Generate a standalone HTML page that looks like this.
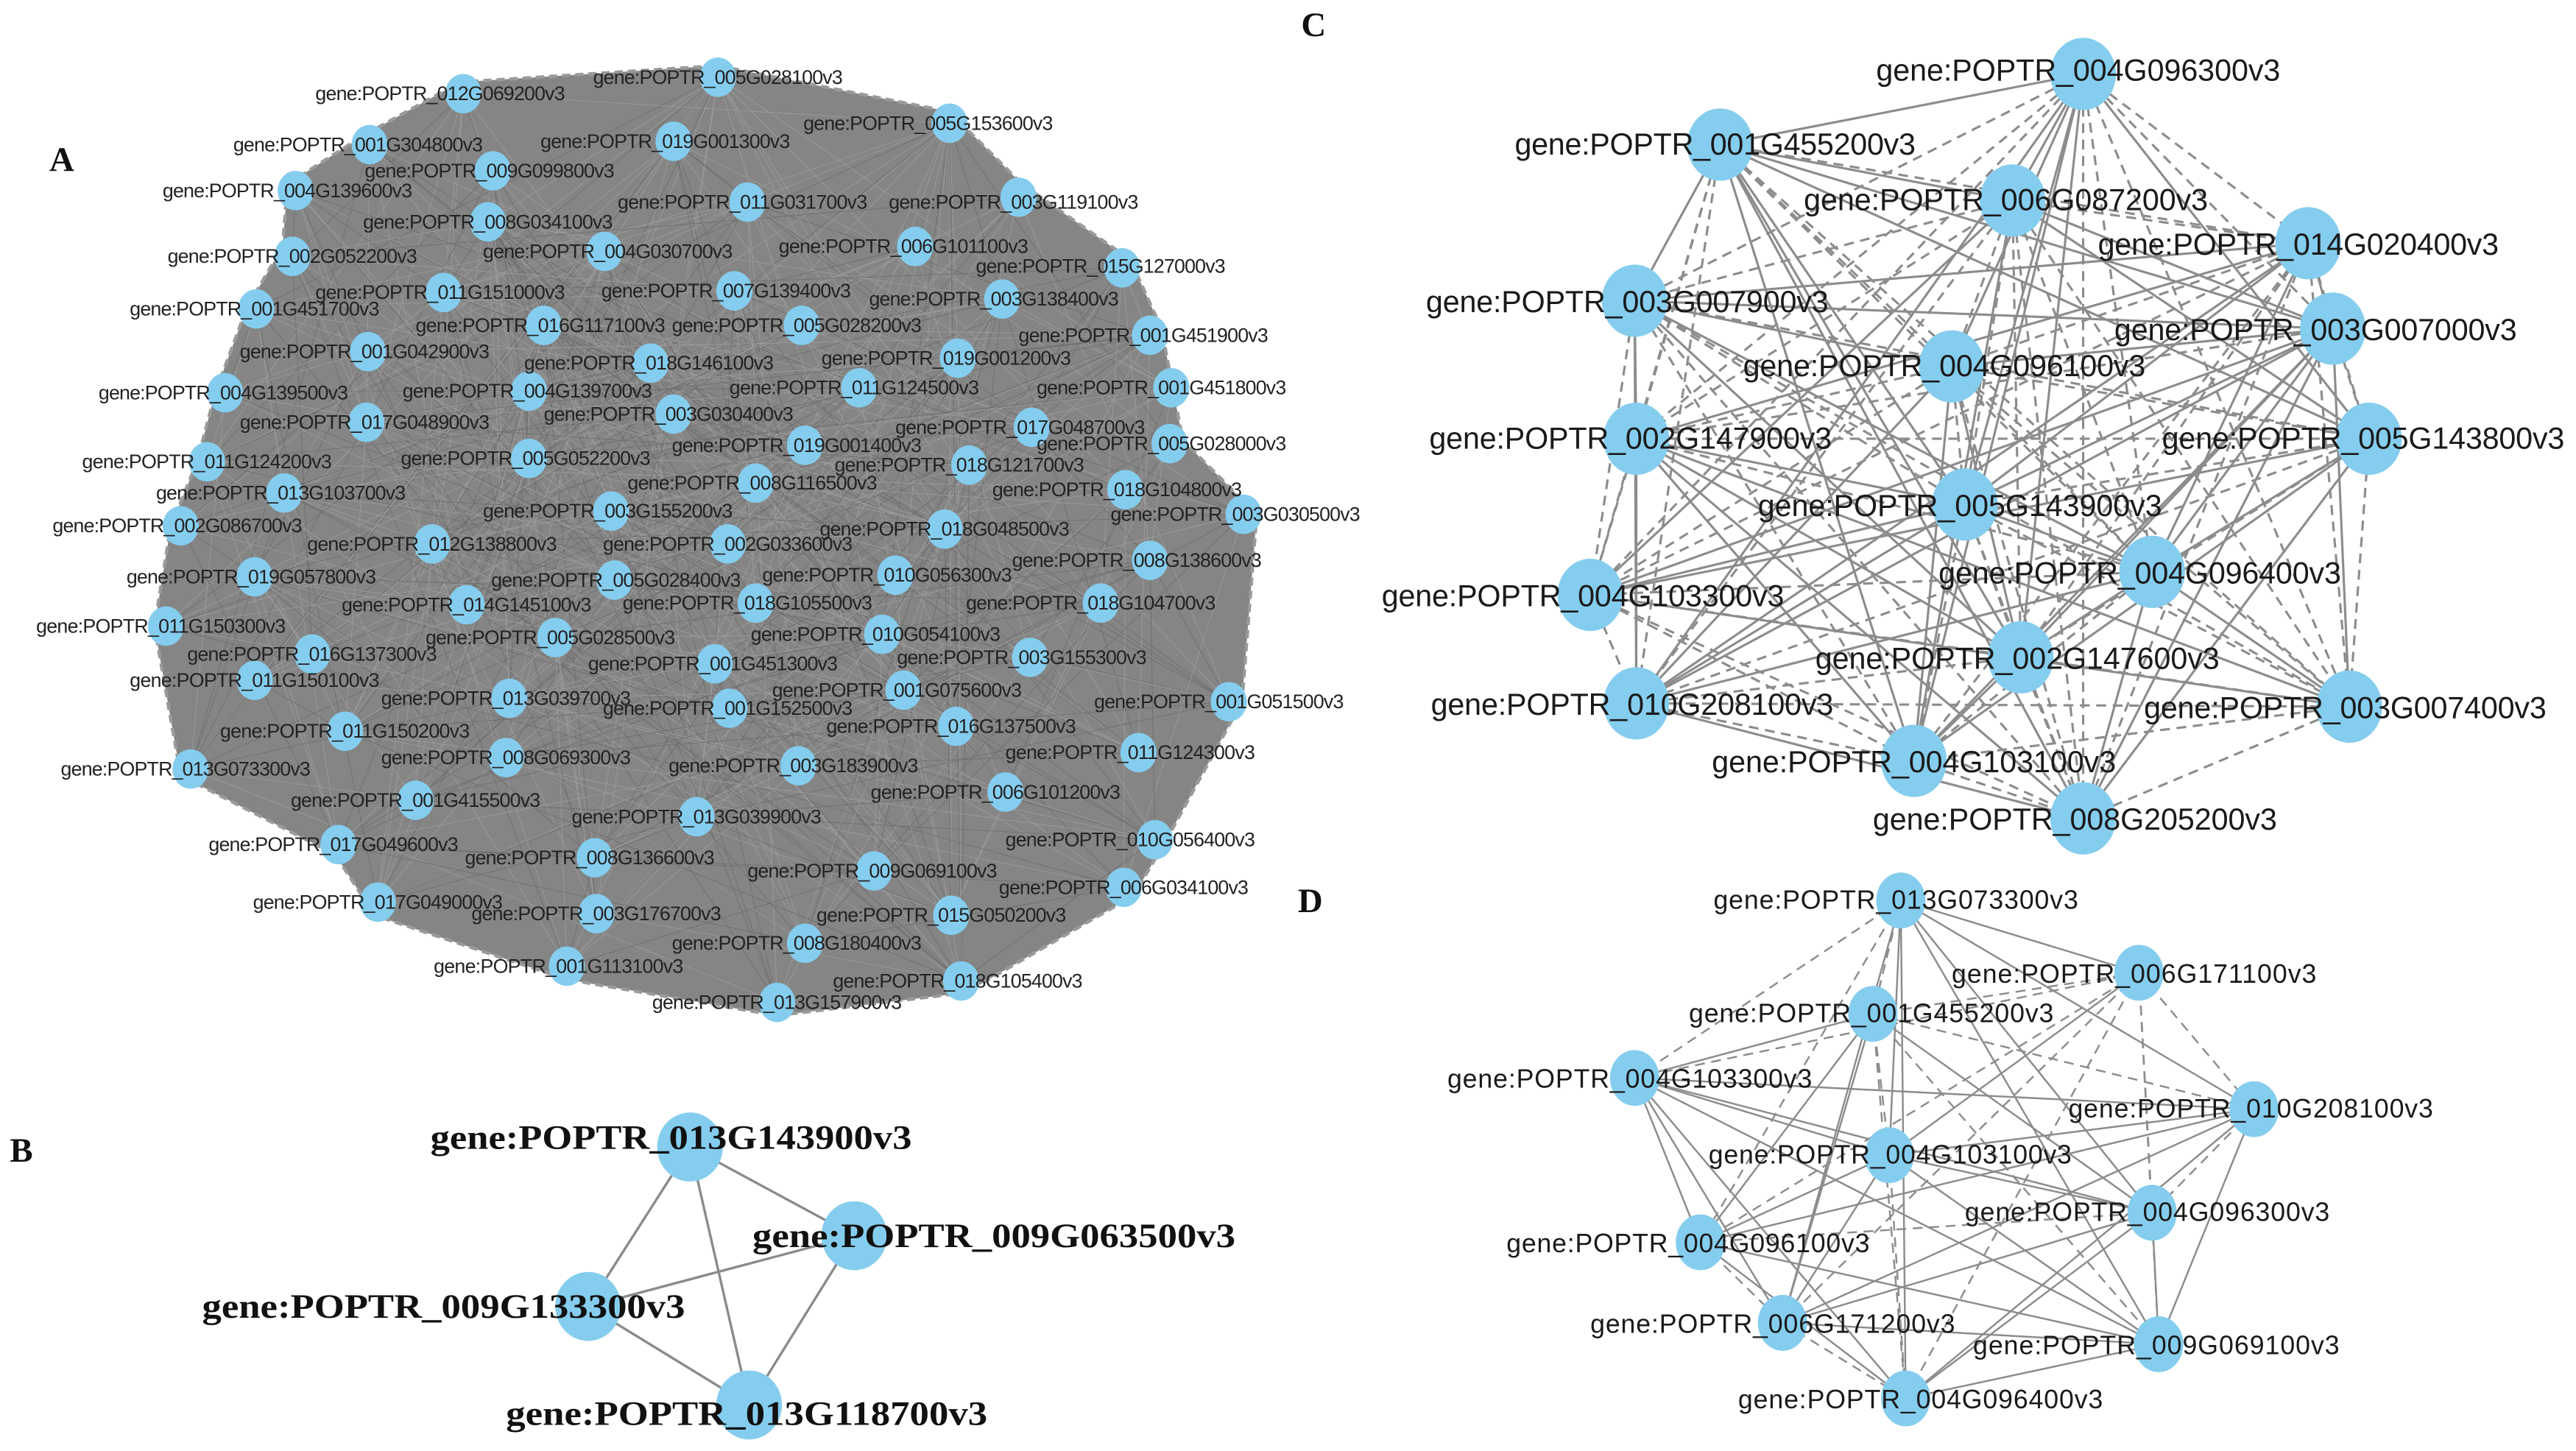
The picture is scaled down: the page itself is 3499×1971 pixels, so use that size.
<!DOCTYPE html>
<html><head><meta charset="utf-8"><style>
html,body{margin:0;padding:0;background:#fff;}
svg{display:block;}
.a text{font-family:"Liberation Sans",sans-serif;font-size:12px;fill:#222;}
.c text{font-family:"Liberation Sans",sans-serif;font-size:18.5px;fill:#1a1a1a;}
.d text{font-family:"Liberation Sans",sans-serif;font-size:16px;fill:#1a1a1a;}
.b text{font-family:"Liberation Serif",serif;font-size:21px;font-weight:bold;fill:#111;}
.lt{font-family:"Liberation Serif",serif;font-size:21px;font-weight:bold;fill:#111;}
circle,ellipse{fill:#85cdee;}
</style></head><body>
<svg id="s" xmlns="http://www.w3.org/2000/svg" width="3499" height="1971" viewBox="0 0 1568 883" preserveAspectRatio="none">
<rect width="1568" height="883" fill="#fff"/>
<text class="lt" x="30" y="104">A</text>
<text class="lt" x="6" y="707">B</text>
<text class="lt" x="792" y="22">C</text>
<text class="lt" x="790" y="555">D</text>

<polygon points="437,40 578,68 622,112 688,158 707,200 720,268 765,313 756,427 710,511 690,545 588,604 473,618 345,596 228,557 204,520 110,472 94,381 104,320 120,281 131,239 150,188 172,150 175,112 222,82 280,50" fill="#858585" stroke="#9a9a9a" stroke-width="2" stroke-dasharray="5,3"/>
<g id="ea" stroke="#a8a8a8" stroke-width="0.5"></g>
<g class="a" id="na">
<ellipse cx="282" cy="57" rx="11" ry="12"/><ellipse cx="437" cy="47" rx="11" ry="12"/><ellipse cx="578" cy="75" rx="11" ry="12"/><ellipse cx="225" cy="88" rx="11" ry="12"/><ellipse cx="410" cy="86" rx="11" ry="12"/><ellipse cx="300" cy="104" rx="11" ry="12"/><ellipse cx="180" cy="116" rx="11" ry="12"/><ellipse cx="455" cy="123" rx="11" ry="12"/><ellipse cx="620" cy="120" rx="11" ry="12"/><ellipse cx="297" cy="135" rx="11" ry="12"/><ellipse cx="368" cy="153" rx="11" ry="12"/><ellipse cx="557" cy="150" rx="11" ry="12"/><ellipse cx="178" cy="156" rx="11" ry="12"/><ellipse cx="683" cy="163" rx="11" ry="12"/><ellipse cx="270" cy="178" rx="11" ry="12"/><ellipse cx="447" cy="177" rx="11" ry="12"/><ellipse cx="610" cy="182" rx="11" ry="12"/><ellipse cx="156" cy="188" rx="11" ry="12"/><ellipse cx="331" cy="198" rx="11" ry="12"/><ellipse cx="488" cy="198" rx="11" ry="12"/><ellipse cx="700" cy="204" rx="11" ry="12"/><ellipse cx="224" cy="214" rx="11" ry="12"/><ellipse cx="396" cy="221" rx="11" ry="12"/><ellipse cx="583" cy="218" rx="11" ry="12"/><ellipse cx="137" cy="239" rx="11" ry="12"/><ellipse cx="322" cy="238" rx="11" ry="12"/><ellipse cx="523" cy="236" rx="11" ry="12"/><ellipse cx="713" cy="236" rx="11" ry="12"/><ellipse cx="410" cy="252" rx="11" ry="12"/><ellipse cx="223" cy="257" rx="11" ry="12"/><ellipse cx="628" cy="260" rx="11" ry="12"/><ellipse cx="712" cy="270" rx="11" ry="12"/><ellipse cx="490" cy="271" rx="11" ry="12"/><ellipse cx="322" cy="279" rx="11" ry="12"/><ellipse cx="590" cy="283" rx="11" ry="12"/><ellipse cx="126" cy="281" rx="11" ry="12"/><ellipse cx="460" cy="294" rx="11" ry="12"/><ellipse cx="173" cy="300" rx="11" ry="12"/><ellipse cx="685" cy="298" rx="11" ry="12"/><ellipse cx="757" cy="313" rx="11" ry="12"/><ellipse cx="372" cy="311" rx="11" ry="12"/><ellipse cx="110" cy="320" rx="11" ry="12"/><ellipse cx="575" cy="322" rx="11" ry="12"/><ellipse cx="263" cy="331" rx="11" ry="12"/><ellipse cx="443" cy="331" rx="11" ry="12"/><ellipse cx="155" cy="351" rx="11" ry="12"/><ellipse cx="374" cy="353" rx="11" ry="12"/><ellipse cx="545" cy="350" rx="11" ry="12"/><ellipse cx="700" cy="341" rx="11" ry="12"/><ellipse cx="284" cy="368" rx="11" ry="12"/><ellipse cx="460" cy="367" rx="11" ry="12"/><ellipse cx="670" cy="367" rx="11" ry="12"/><ellipse cx="101" cy="381" rx="11" ry="12"/><ellipse cx="190" cy="398" rx="11" ry="12"/><ellipse cx="338" cy="388" rx="11" ry="12"/><ellipse cx="537" cy="386" rx="11" ry="12"/><ellipse cx="627" cy="400" rx="11" ry="12"/><ellipse cx="155" cy="414" rx="11" ry="12"/><ellipse cx="435" cy="404" rx="11" ry="12"/><ellipse cx="310" cy="425" rx="11" ry="12"/><ellipse cx="550" cy="420" rx="11" ry="12"/><ellipse cx="444" cy="431" rx="11" ry="12"/><ellipse cx="748" cy="427" rx="11" ry="12"/><ellipse cx="210" cy="445" rx="11" ry="12"/><ellipse cx="582" cy="442" rx="11" ry="12"/><ellipse cx="116" cy="468" rx="11" ry="12"/><ellipse cx="308" cy="461" rx="11" ry="12"/><ellipse cx="486" cy="466" rx="11" ry="12"/><ellipse cx="693" cy="458" rx="11" ry="12"/><ellipse cx="253" cy="487" rx="11" ry="12"/><ellipse cx="612" cy="482" rx="11" ry="12"/><ellipse cx="424" cy="497" rx="11" ry="12"/><ellipse cx="206" cy="514" rx="11" ry="12"/><ellipse cx="703" cy="511" rx="11" ry="12"/><ellipse cx="362" cy="522" rx="11" ry="12"/><ellipse cx="532" cy="530" rx="11" ry="12"/><ellipse cx="684" cy="540" rx="11" ry="12"/><ellipse cx="230" cy="549" rx="11" ry="12"/><ellipse cx="363" cy="556" rx="11" ry="12"/><ellipse cx="579" cy="557" rx="11" ry="12"/><ellipse cx="490" cy="574" rx="11" ry="12"/><ellipse cx="345" cy="588" rx="11" ry="12"/><ellipse cx="585" cy="597" rx="11" ry="12"/><ellipse cx="473" cy="610" rx="11" ry="12"/>
</g>
<g class="a" text-anchor="middle" lengthAdjust="spacingAndGlyphs">
<text x="268" y="61" textLength="152">gene:POPTR_012G069200v3</text>
<text x="437" y="51" textLength="152">gene:POPTR_005G028100v3</text>
<text x="565" y="79" textLength="152">gene:POPTR_005G153600v3</text>
<text x="218" y="92" textLength="152">gene:POPTR_001G304800v3</text>
<text x="405" y="90" textLength="152">gene:POPTR_019G001300v3</text>
<text x="298" y="108" textLength="152">gene:POPTR_009G099800v3</text>
<text x="175" y="120" textLength="152">gene:POPTR_004G139600v3</text>
<text x="452" y="127" textLength="152">gene:POPTR_011G031700v3</text>
<text x="617" y="127" textLength="152">gene:POPTR_003G119100v3</text>
<text x="297" y="139" textLength="152">gene:POPTR_008G034100v3</text>
<text x="370" y="157" textLength="152">gene:POPTR_004G030700v3</text>
<text x="550" y="154" textLength="152">gene:POPTR_006G101100v3</text>
<text x="178" y="160" textLength="152">gene:POPTR_002G052200v3</text>
<text x="670" y="166" textLength="152">gene:POPTR_015G127000v3</text>
<text x="268" y="182" textLength="152">gene:POPTR_011G151000v3</text>
<text x="442" y="181" textLength="152">gene:POPTR_007G139400v3</text>
<text x="605" y="186" textLength="152">gene:POPTR_003G138400v3</text>
<text x="155" y="192" textLength="152">gene:POPTR_001G451700v3</text>
<text x="329" y="202" textLength="152">gene:POPTR_016G117100v3</text>
<text x="485" y="202" textLength="152">gene:POPTR_005G028200v3</text>
<text x="696" y="208" textLength="152">gene:POPTR_001G451900v3</text>
<text x="222" y="218" textLength="152">gene:POPTR_001G042900v3</text>
<text x="395" y="225" textLength="152">gene:POPTR_018G146100v3</text>
<text x="576" y="222" textLength="152">gene:POPTR_019G001200v3</text>
<text x="136" y="243" textLength="152">gene:POPTR_004G139500v3</text>
<text x="321" y="242" textLength="152">gene:POPTR_004G139700v3</text>
<text x="520" y="240" textLength="152">gene:POPTR_011G124500v3</text>
<text x="707" y="240" textLength="152">gene:POPTR_001G451800v3</text>
<text x="407" y="256" textLength="152">gene:POPTR_003G030400v3</text>
<text x="222" y="261" textLength="152">gene:POPTR_017G048900v3</text>
<text x="621" y="264" textLength="152">gene:POPTR_017G048700v3</text>
<text x="707" y="274" textLength="152">gene:POPTR_005G028000v3</text>
<text x="485" y="275" textLength="152">gene:POPTR_019G001400v3</text>
<text x="320" y="283" textLength="152">gene:POPTR_005G052200v3</text>
<text x="584" y="287" textLength="152">gene:POPTR_018G121700v3</text>
<text x="126" y="285" textLength="152">gene:POPTR_011G124200v3</text>
<text x="458" y="298" textLength="152">gene:POPTR_008G116500v3</text>
<text x="171" y="304" textLength="152">gene:POPTR_013G103700v3</text>
<text x="680" y="302" textLength="152">gene:POPTR_018G104800v3</text>
<text x="752" y="317" textLength="152">gene:POPTR_003G030500v3</text>
<text x="370" y="315" textLength="152">gene:POPTR_003G155200v3</text>
<text x="108" y="324" textLength="152">gene:POPTR_002G086700v3</text>
<text x="575" y="326" textLength="152">gene:POPTR_018G048500v3</text>
<text x="263" y="335" textLength="152">gene:POPTR_012G138800v3</text>
<text x="443" y="335" textLength="152">gene:POPTR_002G033600v3</text>
<text x="153" y="355" textLength="152">gene:POPTR_019G057800v3</text>
<text x="375" y="357" textLength="152">gene:POPTR_005G028400v3</text>
<text x="540" y="354" textLength="152">gene:POPTR_010G056300v3</text>
<text x="692" y="345" textLength="152">gene:POPTR_008G138600v3</text>
<text x="284" y="372" textLength="152">gene:POPTR_014G145100v3</text>
<text x="455" y="371" textLength="152">gene:POPTR_018G105500v3</text>
<text x="664" y="371" textLength="152">gene:POPTR_018G104700v3</text>
<text x="98" y="385" textLength="152">gene:POPTR_011G150300v3</text>
<text x="190" y="402" textLength="152">gene:POPTR_016G137300v3</text>
<text x="335" y="392" textLength="152">gene:POPTR_005G028500v3</text>
<text x="533" y="390" textLength="152">gene:POPTR_010G054100v3</text>
<text x="622" y="404" textLength="152">gene:POPTR_003G155300v3</text>
<text x="155" y="418" textLength="152">gene:POPTR_011G150100v3</text>
<text x="434" y="408" textLength="152">gene:POPTR_001G451300v3</text>
<text x="308" y="429" textLength="152">gene:POPTR_013G039700v3</text>
<text x="546" y="424" textLength="152">gene:POPTR_001G075600v3</text>
<text x="443" y="435" textLength="152">gene:POPTR_001G152500v3</text>
<text x="742" y="431" textLength="152">gene:POPTR_001G051500v3</text>
<text x="210" y="449" textLength="152">gene:POPTR_011G150200v3</text>
<text x="579" y="446" textLength="152">gene:POPTR_016G137500v3</text>
<text x="113" y="472" textLength="152">gene:POPTR_013G073300v3</text>
<text x="308" y="465" textLength="152">gene:POPTR_008G069300v3</text>
<text x="483" y="470" textLength="152">gene:POPTR_003G183900v3</text>
<text x="688" y="462" textLength="152">gene:POPTR_011G124300v3</text>
<text x="253" y="491" textLength="152">gene:POPTR_001G415500v3</text>
<text x="606" y="486" textLength="152">gene:POPTR_006G101200v3</text>
<text x="424" y="501" textLength="152">gene:POPTR_013G039900v3</text>
<text x="203" y="518" textLength="152">gene:POPTR_017G049600v3</text>
<text x="688" y="515" textLength="152">gene:POPTR_010G056400v3</text>
<text x="359" y="526" textLength="152">gene:POPTR_008G136600v3</text>
<text x="531" y="534" textLength="152">gene:POPTR_009G069100v3</text>
<text x="684" y="544" textLength="152">gene:POPTR_006G034100v3</text>
<text x="230" y="553" textLength="152">gene:POPTR_017G049000v3</text>
<text x="363" y="560" textLength="152">gene:POPTR_003G176700v3</text>
<text x="573" y="561" textLength="152">gene:POPTR_015G050200v3</text>
<text x="485" y="578" textLength="152">gene:POPTR_008G180400v3</text>
<text x="340" y="592" textLength="152">gene:POPTR_001G113100v3</text>
<text x="583" y="601" textLength="152">gene:POPTR_018G105400v3</text>
<text x="473" y="614" textLength="152">gene:POPTR_013G157900v3</text>
</g>

<g stroke="#8a8a8a" stroke-width="1.5">
<line x1="420" y1="698" x2="520" y2="752"/><line x1="420" y1="698" x2="358" y2="795"/><line x1="420" y1="698" x2="456" y2="855"/>
<line x1="520" y1="752" x2="358" y2="795"/><line x1="520" y1="752" x2="456" y2="855"/><line x1="358" y1="795" x2="456" y2="855"/>
</g>
<g class="b">
<ellipse cx="420" cy="698" rx="20" ry="21"/><ellipse cx="520" cy="752" rx="20" ry="21"/><ellipse cx="358" cy="795" rx="20" ry="21"/><ellipse cx="456" cy="855" rx="20" ry="21"/>
<text x="262" y="699" textLength="293" lengthAdjust="spacingAndGlyphs">gene:POPTR_013G143900v3</text>
<text x="458" y="759" textLength="294" lengthAdjust="spacingAndGlyphs">gene:POPTR_009G063500v3</text>
<text x="123" y="802" textLength="294" lengthAdjust="spacingAndGlyphs">gene:POPTR_009G133300v3</text>
<text x="308" y="867" textLength="293" lengthAdjust="spacingAndGlyphs">gene:POPTR_013G118700v3</text>
</g>

<g id="ec" stroke="#8c8c8c" stroke-width="1.4" fill="none"></g>
<g class="c" id="nc">
<ellipse cx="1268" cy="45" rx="20" ry="22"/><ellipse cx="1047" cy="88" rx="20" ry="22"/><ellipse cx="1225" cy="122" rx="20" ry="22"/><ellipse cx="1405" cy="148" rx="20" ry="22"/><ellipse cx="995" cy="183" rx="20" ry="22"/><ellipse cx="1420" cy="200" rx="20" ry="22"/><ellipse cx="1188" cy="223" rx="20" ry="22"/><ellipse cx="996" cy="267" rx="20" ry="22"/><ellipse cx="1442" cy="267" rx="20" ry="22"/><ellipse cx="1196" cy="307" rx="20" ry="22"/><ellipse cx="1310" cy="348" rx="20" ry="22"/><ellipse cx="968" cy="362" rx="20" ry="22"/><ellipse cx="1230" cy="400" rx="20" ry="22"/><ellipse cx="996" cy="428" rx="20" ry="22"/><ellipse cx="1430" cy="430" rx="20" ry="22"/><ellipse cx="1165" cy="463" rx="20" ry="22"/><ellipse cx="1268" cy="498" rx="20" ry="22"/>
</g>
<g class="c" lengthAdjust="spacingAndGlyphs">
<text x="1142" y="49" textLength="246">gene:POPTR_004G096300v3</text>
<text x="922" y="94" textLength="244">gene:POPTR_001G455200v3</text>
<text x="1098" y="128" textLength="246">gene:POPTR_006G087200v3</text>
<text x="1277" y="155" textLength="244">gene:POPTR_014G020400v3</text>
<text x="868" y="190" textLength="245">gene:POPTR_003G007900v3</text>
<text x="1287" y="207" textLength="245">gene:POPTR_003G007000v3</text>
<text x="1061" y="229" textLength="245">gene:POPTR_004G096100v3</text>
<text x="870" y="273" textLength="245">gene:POPTR_002G147900v3</text>
<text x="1316" y="273" textLength="245">gene:POPTR_005G143800v3</text>
<text x="1070" y="314" textLength="246">gene:POPTR_005G143900v3</text>
<text x="1180" y="355" textLength="245">gene:POPTR_004G096400v3</text>
<text x="841" y="369" textLength="245">gene:POPTR_004G103300v3</text>
<text x="1105" y="407" textLength="246">gene:POPTR_002G147600v3</text>
<text x="871" y="435" textLength="245">gene:POPTR_010G208100v3</text>
<text x="1305" y="437" textLength="245">gene:POPTR_003G007400v3</text>
<text x="1042" y="470" textLength="246">gene:POPTR_004G103100v3</text>
<text x="1140" y="505" textLength="246">gene:POPTR_008G205200v3</text>
</g>

<g id="ed" stroke="#8c8c8c" stroke-width="1.1" fill="none"></g>
<g class="d" id="nd">
<ellipse cx="1157" cy="548" rx="15" ry="17"/><ellipse cx="1302" cy="592" rx="15" ry="17"/><ellipse cx="1140" cy="617" rx="15" ry="17"/><ellipse cx="995" cy="656" rx="15" ry="17"/><ellipse cx="1372" cy="675" rx="15" ry="17"/><ellipse cx="1150" cy="703" rx="15" ry="17"/><ellipse cx="1310" cy="738" rx="15" ry="17"/><ellipse cx="1035" cy="756" rx="15" ry="17"/><ellipse cx="1085" cy="805" rx="15" ry="17"/><ellipse cx="1314" cy="818" rx="15" ry="17"/><ellipse cx="1160" cy="851" rx="15" ry="17"/>
</g>
<g class="d" lengthAdjust="spacingAndGlyphs">
<text x="1043" y="553" textLength="222">gene:POPTR_013G073300v3</text>
<text x="1188" y="598" textLength="222">gene:POPTR_006G171100v3</text>
<text x="1028" y="622" textLength="222">gene:POPTR_001G455200v3</text>
<text x="881" y="662" textLength="222">gene:POPTR_004G103300v3</text>
<text x="1259" y="680" textLength="222">gene:POPTR_010G208100v3</text>
<text x="1040" y="708" textLength="221">gene:POPTR_004G103100v3</text>
<text x="1196" y="743" textLength="222">gene:POPTR_004G096300v3</text>
<text x="917" y="762" textLength="221">gene:POPTR_004G096100v3</text>
<text x="968" y="811" textLength="222">gene:POPTR_006G171200v3</text>
<text x="1201" y="824" textLength="223">gene:POPTR_009G069100v3</text>
<text x="1058" y="857" textLength="222">gene:POPTR_004G096400v3</text>
</g>
</svg>
<script>
(function(){
var NS="http://www.w3.org/2000/svg";
function pts(id){return Array.prototype.map.call(document.querySelectorAll('#'+id+' ellipse'),function(e){return [+e.getAttribute('cx'),+e.getAttribute('cy')];});}
function ln(g,a,b,dash,col,w){var l=document.createElementNS(NS,'line');l.setAttribute('x1',a[0]);l.setAttribute('y1',a[1]);l.setAttribute('x2',b[0]);l.setAttribute('y2',b[1]);if(dash)l.setAttribute('stroke-dasharray','6,4');if(col)l.setAttribute('stroke',col);if(w)l.setAttribute('stroke-width',w);g.appendChild(l);}
var s=7;function rnd(){s=(s*9301+49297)%233280;return s/233280;}
var c=pts('nc'),gc=document.getElementById('ec');
for(var i=0;i<c.length;i++)for(var j=i+1;j<c.length;j++){ln(gc,c[i],c[j],rnd()<0.45);}
var d=pts('nd'),gd=document.getElementById('ed');
for(i=0;i<d.length;i++)for(j=i+1;j<d.length;j++){ln(gd,d[i],d[j],rnd()<0.45);}
var a=pts('na'),ga=document.getElementById('ea');
for(i=0;i<a.length;i++)for(j=i+1;j<a.length;j++){if(rnd()<0.12)ln(ga,a[i],a[j],false,rnd()<0.5?'#9c9c9c':'#6e6e6e',0.4);}
})();
</script>
</body></html>
